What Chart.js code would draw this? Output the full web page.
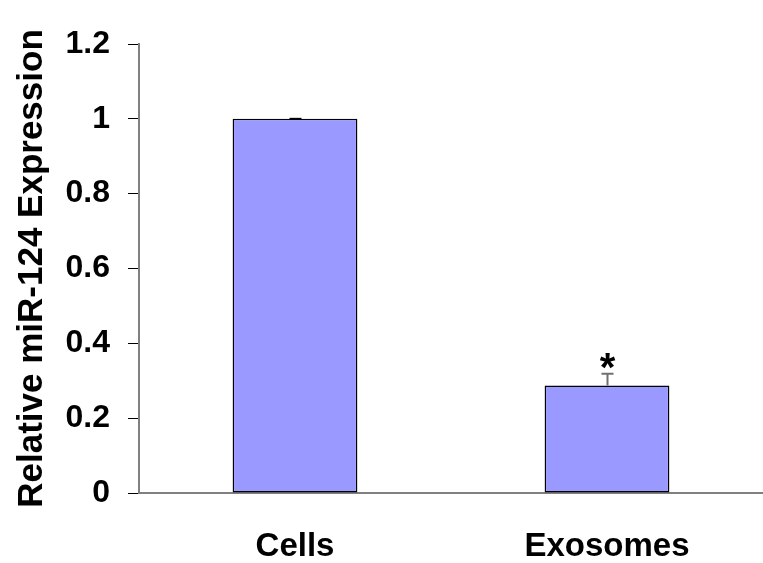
<!DOCTYPE html>
<html>
<head>
<meta charset="utf-8">
<script src="https://cdn.jsdelivr.net/npm/chart.js@4/dist/chart.umd.min.js"></script>
<style>
  html, body { margin: 0; padding: 0; background: #ffffff; }
  #wrap { width: 763px; height: 563px; }
</style>
</head>
<body>
<div id="wrap"><canvas id="chart" width="763" height="563"></canvas></div>
<script>
// Relative miR-124 expression in cells vs. exosomes
const categories = ['Cells', 'Exosomes'];
const expression = [1.0, 0.287];
const errorUpper = [0.0, 0.032];
const significance = ['', '*'];
const yTicks = [0, 0.2, 0.4, 0.6, 0.8, 1, 1.2];

const FONT = "'Liberation Sans', Arial, Helvetica, sans-serif";

// Upper error whiskers and significance marks drawn over the bars
const errorBarPlugin = {
  id: 'errorBars',
  afterDatasetsDraw(chart) {
    const ctx = chart.ctx;
    const meta = chart.getDatasetMeta(0);
    const y = chart.scales.y;
    ctx.save();
    meta.data.forEach((bar, i) => {
      const x = Math.round(bar.x) + 0.5;
      const yTop = y.getPixelForValue(expression[i]);
      const yErr = y.getPixelForValue(expression[i] + errorUpper[i]);
      ctx.strokeStyle = errorUpper[i] > 0 ? '#707070' : '#000000';
      ctx.lineWidth = 2;
      ctx.beginPath();
      ctx.moveTo(x, yTop);
      ctx.lineTo(x, yErr);
      ctx.moveTo(x - 6, yErr);
      ctx.lineTo(x + 6, yErr);
      ctx.stroke();
      if (significance[i]) {
        ctx.fillStyle = '#000000';
        ctx.font = 'bold 40px ' + FONT;
        ctx.textAlign = 'center';
        ctx.textBaseline = 'alphabetic';
        ctx.fillText(significance[i], x, yErr + 7);
      }
    });
    ctx.restore();
  }
};

new Chart(document.getElementById('chart'), {
  type: 'bar',
  data: {
    labels: categories,
    datasets: [{
      data: expression,
      backgroundColor: '#9999FF',
      borderColor: '#000000',
      borderWidth: 1.5,
      borderSkipped: false,
      categoryPercentage: 1.0,
      barPercentage: 0.4
    }]
  },
  options: {
    responsive: false,
    animation: false,
    devicePixelRatio: 1,
    layout: { padding: { left: 0, right: 0, top: 44, bottom: 0 } },
    plugins: {
      legend: { display: false },
      tooltip: { enabled: false }
    },
    scales: {
      x: {
        grid: { display: false },
        border: { display: true, color: '#808080', width: 2 },
        ticks: {
          color: '#000000',
          padding: 26,
          font: { family: FONT, size: 33, weight: 'bold' }
        },
        afterFit(scale) { scale.height = 70; }
      },
      y: {
        min: 0,
        max: 1.2,
        afterBuildTicks(scale) { scale.ticks = yTicks.map(v => ({ value: v })); },
        grid: {
          display: true,
          drawOnChartArea: false,
          drawTicks: true,
          tickLength: 11,
          tickColor: '#000000',
          tickWidth: 1
        },
        border: { display: true, color: '#808080', width: 2 },
        ticks: {
          color: '#000000',
          padding: 18,
          font: { family: FONT, size: 32, weight: 'bold' },
          callback: (v) => String(Math.round(v * 10) / 10)
        },
        title: {
          display: true,
          text: 'Relative miR-124 Expression',
          color: '#000000',
          font: { family: FONT, size: 35, weight: 'bold' },
          padding: { top: 11, bottom: 0 }
        },
        afterFit(scale) { scale.width = 139; }
      }
    }
  },
  plugins: [errorBarPlugin]
});
</script>
</body>
</html>
